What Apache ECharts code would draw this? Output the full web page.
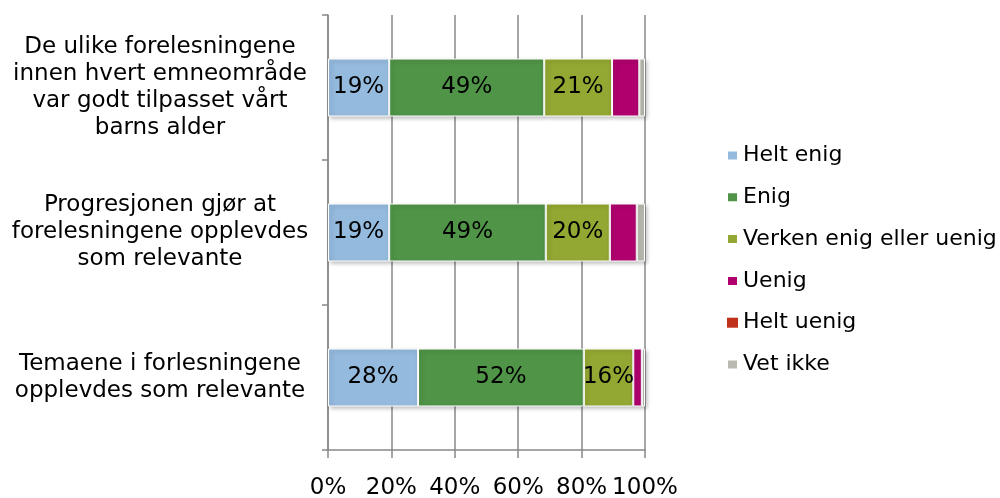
<!DOCTYPE html>
<html><head><meta charset="utf-8">
<script src="https://cdn.jsdelivr.net/npm/echarts@6/dist/echarts.min.js"></script>
<style>html,body{margin:0;padding:0;background:#fff}#c{width:1000px;height:498px}</style>
</head><body><div id="c"></div>
<script>
const categories = [
  "De ulike forelesningene\ninnen hvert emneområde\nvar godt tilpasset vårt\nbarns alder",
  "Progresjonen gjør at\nforelesningene opplevdes\nsom relevante",
  "Temaene i forlesningene\nopplevdes som relevante"
];
const seriesNames = ["Helt enig", "Enig", "Verken enig eller uenig", "Uenig", "Helt uenig", "Vet ikke"];
const heltEnig = [19.3, 19.3, 28.4];
const enig = [48.9, 49.4, 52.3];
const verken = [21.4, 20.2, 15.6];
const uenig = [8.6, 8.5, 2.7];
const heltUenig = [0, 0, 0];
const vetIkke = [1.8, 2.6, 1.0];
const xTicks = [0, 20, 40, 60, 80, 100];

const colors = ["#94BADE", "#4F9447", "#93A832", "#B0006E", "#C0301A", "#BABAB0"];
const values = [heltEnig, enig, verken, uenig, heltUenig, vetIkke];
const labeled = [true, true, true, false, false, false];

const chart = echarts.init(document.getElementById('c'), null, {renderer: 'canvas'});
const font = "'DejaVu Sans', Verdana, sans-serif";
const fs = 23;
chart.setOption({
  animation: false,
  textStyle: {fontFamily: font},
  grid: {left: 328, right: 355, top: 15, bottom: 48, containLabel: false, outerBoundsMode: 'none'},
  legend: {
    orient: 'vertical', left: 721, top: 139,
    itemWidth: 11, itemHeight: 10, itemGap: 18.8,
    icon: 'rect',
    textStyle: {fontSize: 22, lineHeight: 23, color: '#000', fontFamily: font},
    data: seriesNames
  },
  xAxis: {
    type: 'value', min: 0, max: 100, interval: 20,
    axisLine: {show: true, lineStyle: {color: '#888', width: 1.5}},
    axisTick: {show: true, length: 8, lineStyle: {color: '#888', width: 1.5}},
    splitLine: {show: true, lineStyle: {color: '#888', width: 1.5}},
    axisLabel: {
      margin: 27, fontSize: fs, color: '#000', fontFamily: font,
      formatter: v => xTicks.includes(v) ? v + '%' : ''
    }
  },
  yAxis: {
    type: 'category', data: categories, inverse: true,
    axisLine: {show: true, lineStyle: {color: '#888', width: 1.5}},
    axisTick: {show: true, length: 6, lineStyle: {color: '#888', width: 1.5}},
    axisLabel: {
      margin: 168, align: 'center', fontSize: fs, lineHeight: 27,
      color: '#000', fontFamily: font
    }
  },
  series: seriesNames.map((n, i) => ({
    name: n, type: 'bar', stack: 'all', barWidth: '40%',
    data: values[i],
    itemStyle: {color: colors[i], borderColor: '#fff', borderWidth: i === 4 ? 0 : 1,
      shadowColor: 'rgba(0,0,0,0.25)', shadowBlur: 4, shadowOffsetX: 2, shadowOffsetY: 2},
    label: {
      show: labeled[i], position: 'inside', fontSize: fs, color: '#000', fontFamily: font,
      formatter: p => Math.round(p.value) + '%'
    }
  }))
});
</script></body></html>
